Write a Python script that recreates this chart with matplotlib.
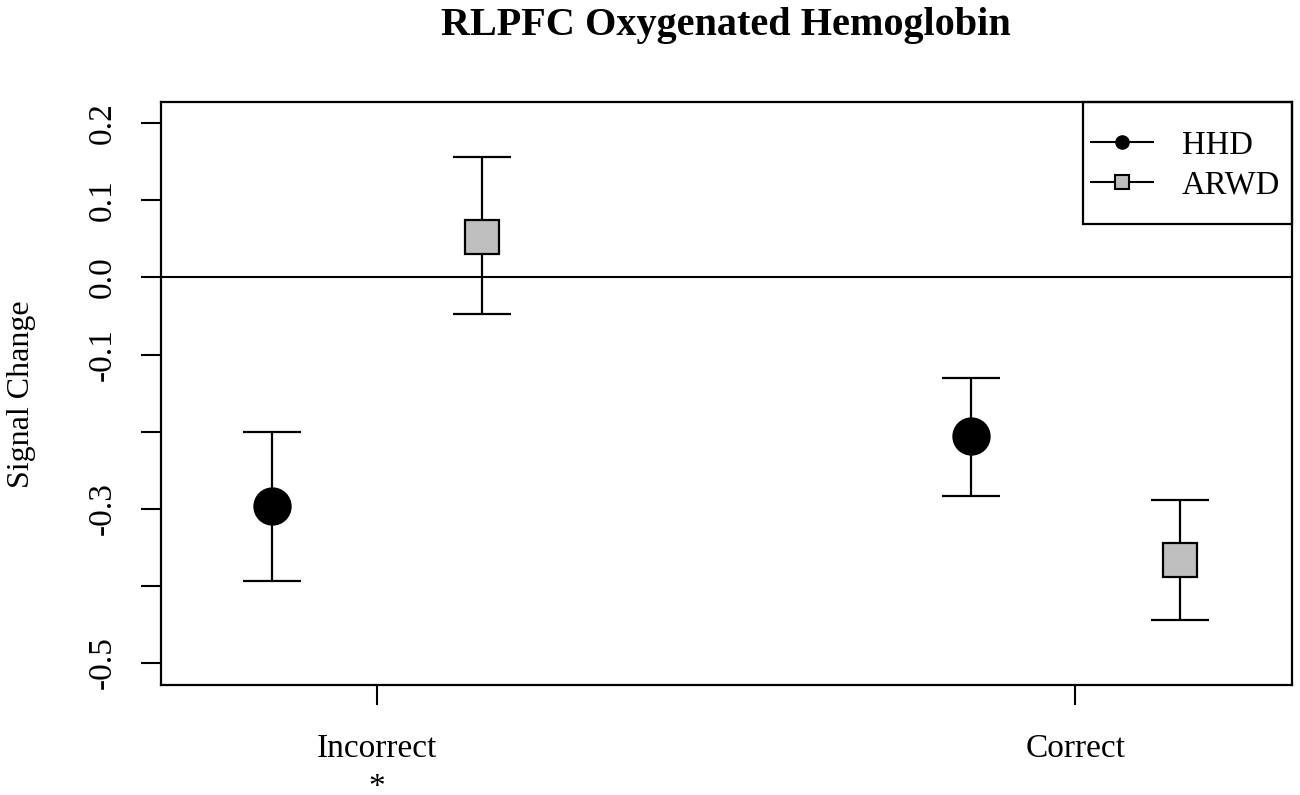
import numpy as np
import matplotlib
matplotlib.use("Agg")
import matplotlib.pyplot as plt
from matplotlib.lines import Line2D
from matplotlib.patches import Rectangle

plt.rcParams['font.family'] = ['Liberation Serif', 'DejaVu Serif']

# ---- data ----
categories = ["Incorrect", "Correct"]
x_labels = ["Incorrect\n*", "Correct"]
groups = ["HHD", "ARWD"]
hhd_mean = [-0.296, -0.205]
hhd_lower = [-0.394, -0.284]
hhd_upper = [-0.201, -0.131]
arwd_mean = [0.053, -0.367]
arwd_lower = [-0.048, -0.444]
arwd_upper = [0.156, -0.289]
y_ticks = [-0.5, -0.4, -0.3, -0.2, -0.1, 0.0, 0.1, 0.2]
y_ticklabels = ["-0.5", "", "-0.3", "", "-0.1", "0.0", "0.1", "0.2"]
title = "RLPFC Oxygenated Hemoglobin"
ylabel = "Signal Change"

W, H = 1300, 795
fig = plt.figure(figsize=(W / 100, H / 100), dpi=100)
AX_L, AX_R, AX_T, AX_B = 160.5, 1292, 101.7, 685.3
ax = fig.add_axes([AX_L / W, (H - AX_B) / H, (AX_R - AX_L) / W, (AX_B - AX_T) / H])

def ax_x(px):
    return (px - AX_L) / (AX_R - AX_L)

def ax_y(py):
    return (AX_B - py) / (AX_B - AX_T)

xpos = np.arange(1, len(categories) + 1)
offset = 0.15

ax.axhline(0, color='black', lw=1.5, zorder=1)

def draw(xs, mean, lower, upper, marker, face, ms):
    mean = np.array(mean); lower = np.array(lower); upper = np.array(upper)
    ax.errorbar(xs, mean, yerr=[mean - lower, upper - mean], fmt='none',
                ecolor='black', elinewidth=1.6, capsize=21, capthick=1.6, zorder=2)
    ax.plot(xs, mean, linestyle='none', marker=marker, markersize=ms,
            markerfacecolor=face, markeredgecolor='black', markeredgewidth=1.6, zorder=3)

draw(xpos - offset, hhd_mean, hhd_lower, hhd_upper, 'o', 'black', 26)
draw(xpos + offset, arwd_mean, arwd_lower, arwd_upper, 's', '#BEBEBE', 24)

ax.set_xlim(0.69, 2.31)
ax.set_ylim(-0.529, 0.228)
ax.set_xticks(xpos)
ax.set_xticklabels(x_labels, fontsize=24, linespacing=1.36)
ax.set_yticks(y_ticks)
ax.set_yticklabels(y_ticklabels, fontsize=24, rotation=90, va='center')
ax.tick_params(axis='both', length=14.4, width=1.5, color='black')
ax.tick_params(axis='x', pad=20)
ax.tick_params(axis='y', pad=16.5)
for s in ax.spines.values():
    s.set_linewidth(1.6)

fig.text(22 / W, 1 - 394 / H, ylabel, rotation=90, ha='center', va='center', fontsize=23)
fig.text(726 / W, 1 - 25 / H, title, ha='center', va='center', fontsize=29, fontweight='bold')

# legend box (frame drawn separately to match the reference padding)
ax.add_patch(Rectangle((ax_x(1083.3), ax_y(224)), 1 - ax_x(1083.3), 1 - ax_y(224),
                       transform=ax.transAxes, fill=False, edgecolor='black',
                       lw=1.6, clip_on=False, zorder=5))
handles = [
    Line2D([], [], color='black', lw=1.5, marker='o', markersize=9.5,
           markerfacecolor='black', markeredgecolor='black'),
    Line2D([], [], color='black', lw=1.5, marker='s', markersize=9.5,
           markerfacecolor='#BEBEBE', markeredgecolor='black', markeredgewidth=1.5),
]
leg = ax.legend(handles, groups, loc='upper left', bbox_to_anchor=(ax_x(1090.7), ax_y(130)),
                borderaxespad=0, borderpad=0, frameon=False,
                fontsize=23.5, handlelength=1.9, handletextpad=0.89, labelspacing=0.285)

fig.savefig('out.png', dpi=100)
